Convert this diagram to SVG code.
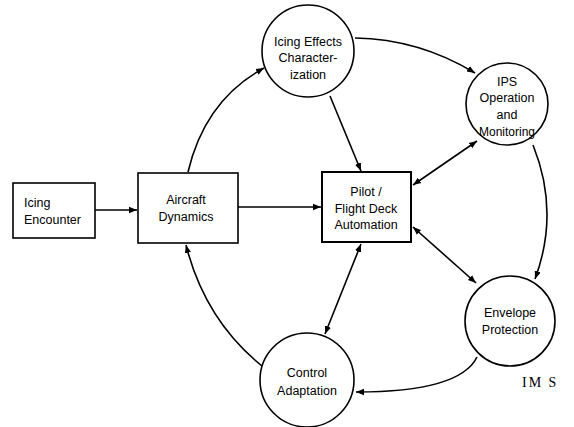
<svg xmlns="http://www.w3.org/2000/svg" width="574" height="427" viewBox="0 0 574 427">
<style>
.box{fill:#fff;stroke:#000;stroke-width:1.6}
.node{fill:#fff;stroke:#000;stroke-width:1.6}
.t{font-family:"Liberation Sans",Arial,sans-serif;font-size:12.5px;fill:#000;text-anchor:middle}
.c{fill:none;stroke:#000;stroke-width:1.6}
</style>
<defs>
<marker id="ah" viewBox="0 0 10 10" refX="10" refY="5" markerWidth="8" markerHeight="8" markerUnits="userSpaceOnUse" orient="auto-start-reverse">
<path d="M0,1 L10,5 L0,9 Z" fill="#000"/>
</marker>
</defs>
<g id="connectors">
<line class="c" x1="95" y1="210" x2="137" y2="210" marker-end="url(#ah)"/>
<line class="c" x1="238" y1="207" x2="321" y2="207" marker-end="url(#ah)"/>
<path class="c" d="M188,172 Q205,100 264,68" marker-end="url(#ah)"/>
<path class="c" d="M355,38 Q419,39 475,73" marker-end="url(#ah)"/>
<line class="c" x1="330" y1="96" x2="361" y2="171" marker-end="url(#ah)"/>
<line class="c" x1="413" y1="185" x2="477" y2="141" marker-start="url(#ah)" marker-end="url(#ah)"/>
<path class="c" d="M533,145 Q560,212 535,279" marker-end="url(#ah)"/>
<line class="c" x1="413" y1="227" x2="476" y2="283" marker-start="url(#ah)" marker-end="url(#ah)"/>
<path class="c" d="M477,357 Q460,392 356,392" marker-end="url(#ah)"/>
<line class="c" x1="361" y1="244" x2="325" y2="334" marker-start="url(#ah)" marker-end="url(#ah)"/>
<path class="c" d="M262,366 Q205,320 186,245" marker-end="url(#ah)"/>
</g>
<g id="icing-encounter">
<rect class="box" x="13" y="183" width="82" height="55"/>
<text class="t" x="24" y="207" style="text-anchor:start">Icing</text>
<text class="t" x="24" y="224" style="text-anchor:start">Encounter</text>
</g>
<g id="aircraft-dynamics">
<rect class="box" x="138" y="173" width="100" height="70"/>
<text class="t" x="186" y="204">Aircraft</text>
<text class="t" x="186" y="221">Dynamics</text>
</g>
<g id="pilot">
<rect class="box" x="322" y="172" width="89" height="70" style="stroke-width:2"/>
<text class="t" x="366" y="196">Pilot /</text>
<text class="t" x="366" y="213">Flight Deck</text>
<text class="t" x="366" y="229">Automation</text>
</g>
<g id="icing-effects">
<circle class="node" cx="308" cy="51" r="46"/>
<text class="t" x="308" y="46">Icing Effects</text>
<text class="t" x="308" y="62">Character-</text>
<text class="t" x="308" y="79">ization</text>
</g>
<g id="ips">
<circle class="node" cx="507" cy="104" r="41"/>
<text class="t" x="507" y="86">IPS</text>
<text class="t" x="507" y="102">Operation</text>
<text class="t" x="507" y="119">and</text>
<text class="t" x="507" y="136" style="font-size:12px">Monitoring</text>
</g>
<g id="envelope">
<circle class="node" cx="510" cy="321" r="45"/>
<text class="t" x="510" y="317">Envelope</text>
<text class="t" x="510" y="334">Protection</text>
</g>
<g id="control">
<circle class="node" cx="307" cy="380" r="47"/>
<text class="t" x="307" y="377">Control</text>
<text class="t" x="307" y="395">Adaptation</text>
</g>
<text x="522" y="387" style="font-family:'Liberation Serif','Times New Roman',serif;font-size:14px;letter-spacing:2px;fill:#000">IM S</text>
</svg>
